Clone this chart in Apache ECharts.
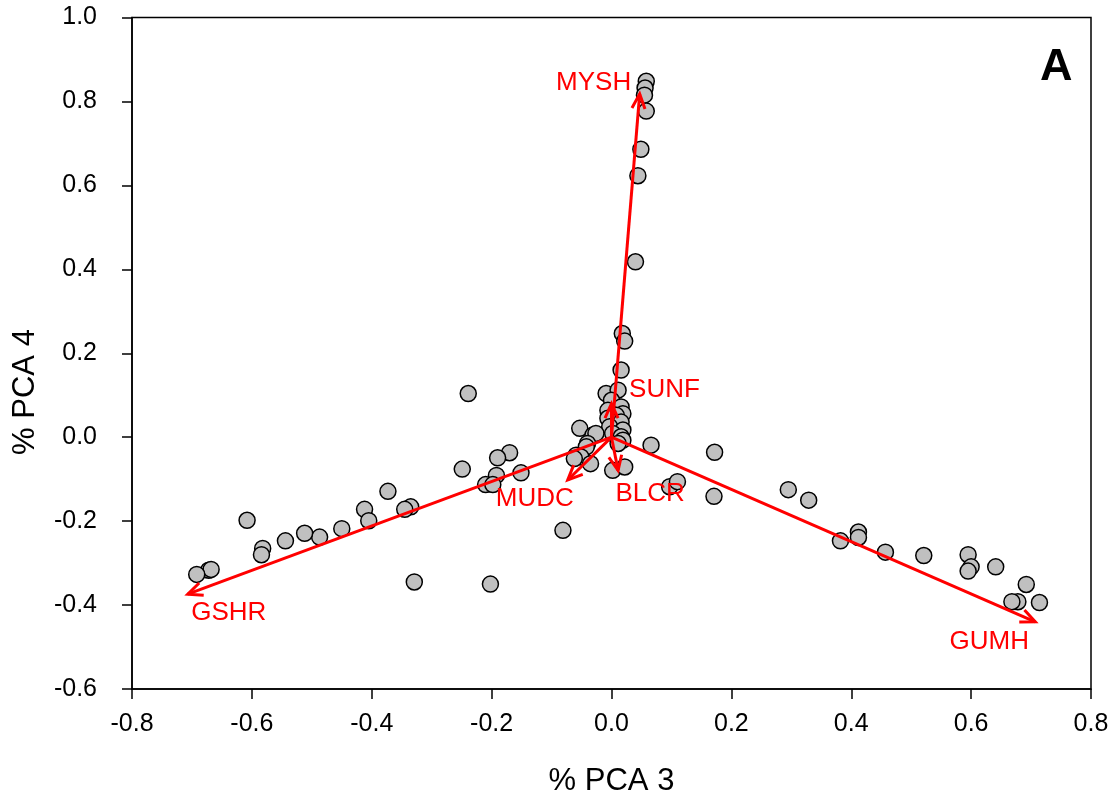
<!DOCTYPE html>
<html>
<head>
<meta charset="utf-8">
<script src="https://cdn.jsdelivr.net/npm/echarts@6/dist/echarts.min.js"></script>
<style>html,body{margin:0;padding:0;background:#fff}#c{width:1115px;height:803px}</style>
</head>
<body>
<div id="c"></div>
<script>
// Sample scores: [PCA 3, PCA 4]
const pointsX = [
  0.058, 0.056, 0.055, 0.058, 0.049, 0.044, 0.040, 0.018, 0.022, 0.016,
  -0.009, 0.011, 0.000, 0.016, -0.006, 0.019, 0.008, -0.006, 0.016, -0.003, 0.019, 0.002, 0.016, 0.019, 0.011,
  -0.053, -0.031, -0.026, -0.040, -0.042, -0.059, -0.051, -0.062, -0.035, 0.002, 0.022, 0.066, 0.097, 0.110,
  0.172, 0.171, 0.295, 0.329, 0.382, 0.412, 0.412, 0.457, 0.521, 0.595, 0.600, 0.595, 0.641, 0.692, 0.678, 0.668, 0.714,
  -0.239, -0.170, -0.190, -0.249, -0.151, -0.192, -0.210, -0.198, -0.373, -0.412, -0.405, -0.335, -0.345,
  -0.450, -0.487, -0.512, -0.544, -0.582, -0.584, -0.608, -0.672, -0.668, -0.692, -0.329, -0.202, -0.081
];
const pointsY = [
  0.848, 0.832, 0.815, 0.777, 0.686, 0.623, 0.418, 0.247, 0.229, 0.160,
  0.104, 0.112, 0.088, 0.072, 0.064, 0.056, 0.052, 0.045, 0.036, 0.025, 0.017, 0.009, 0.001, -0.007, -0.015,
  0.021, 0.005, 0.009, -0.015, -0.023, -0.043, -0.047, -0.051, -0.063, -0.079, -0.071, -0.019, -0.118, -0.106,
  -0.036, -0.141, -0.125, -0.150, -0.247, -0.226, -0.239, -0.274, -0.282, -0.280, -0.309, -0.319, -0.309, -0.351, -0.392, -0.392, -0.394,
  0.104, -0.037, -0.049, -0.076, -0.085, -0.091, -0.113, -0.113, -0.129, -0.172, -0.199, -0.166, -0.172,
  -0.218, -0.238, -0.229, -0.247, -0.265, -0.280, -0.198, -0.317, -0.315, -0.327, -0.345, -0.350, -0.222
];
// Variable loadings (arrow tips)
const loadingNames = ['MYSH', 'SUNF', 'BLCR', 'MUDC', 'GSHR', 'GUMH'];
const loadingX = [0.047, 0.000, 0.011, -0.073, -0.707, 0.707];
const loadingY = [0.818, 0.080, -0.079, -0.102, -0.374, -0.440];
const xTicks = { min: -0.8, max: 0.8, interval: 0.2 };
const yTicks = { min: -0.6, max: 1.0, interval: 0.2 };
const xTitle = '% PCA 3';
const yTitle = '% PCA 4';
const panelLetter = 'A';

// label pixel offsets from arrow tips (styling)
const labelOffsets = [[-46, -11], [53, -14], [32, 23], [-33, 19], [41, 19], [-46, 20]];

const FONT = '"Liberation Sans", Arial, sans-serif';
const chart = echarts.init(document.getElementById('c'));

const scatterData = pointsX.map((x, i) => [x, pointsY[i]]);
const loadData = loadingX.map((x, i) => [x, loadingY[i], i]);

function renderArrow(params, api) {
  const o = api.coord([0, 0]);
  const t = api.coord([api.value(0), api.value(1)]);
  const idx = api.value(2);
  const ang = Math.atan2(t[1] - o[1], t[0] - o[0]);
  const L = 16, A = 0.42;
  const p1 = [t[0] - L * Math.cos(ang - A), t[1] - L * Math.sin(ang - A)];
  const p2 = [t[0] - L * Math.cos(ang + A), t[1] - L * Math.sin(ang + A)];
  const off = labelOffsets[idx];
  return {
    type: 'group',
    children: [
      { type: 'line', shape: { x1: o[0], y1: o[1], x2: t[0], y2: t[1] }, style: { stroke: '#ff0000', lineWidth: 3 } },
      { type: 'polyline', shape: { points: [p1, t, p2] }, style: { stroke: '#ff0000', lineWidth: 3, fill: null } },
      { type: 'text', x: t[0] + off[0], y: t[1] + off[1],
        style: { text: loadingNames[idx], fill: '#ff0000', fontSize: 26, fontFamily: FONT, align: 'center', verticalAlign: 'middle' } }
    ]
  };
}

const fmt = v => v.toFixed(1);

chart.setOption({
  animation: false,
  backgroundColor: '#fff',
  grid: { left: 132, right: 24, top: 17.5, bottom: 114, show: true, borderColor: '#000', borderWidth: 1.5, backgroundColor: 'transparent' },
  xAxis: {
    type: 'value', min: xTicks.min, max: xTicks.max, interval: xTicks.interval,
    name: xTitle, nameLocation: 'middle', nameGap: 77,
    nameTextStyle: { fontSize: 31, fontFamily: FONT, color: '#000' },
    axisLine: { onZero: false, lineStyle: { color: '#000', width: 1.5 } },
    axisTick: { show: true, inside: false, length: 10, lineStyle: { color: '#000', width: 1.5 } },
    axisLabel: { fontSize: 25, fontFamily: FONT, color: '#000', margin: 23, formatter: fmt },
    splitLine: { show: false }
  },
  yAxis: {
    type: 'value', min: yTicks.min, max: yTicks.max, interval: yTicks.interval,
    axisLine: { onZero: false, lineStyle: { color: '#000', width: 1.5 } },
    axisTick: { show: true, inside: false, length: 10, lineStyle: { color: '#000', width: 1.5 } },
    axisLabel: { fontSize: 25, fontFamily: FONT, color: '#000', margin: 35, formatter: fmt },
    splitLine: { show: false }
  },
  graphic: [
    { type: 'text', left: 1040, top: 45, style: { text: panelLetter, fontSize: 45, fontWeight: 'bold', fontFamily: FONT, fill: '#000' } },
    { type: 'text', x: 25, y: 392, rotation: Math.PI / 2,
      style: { text: yTitle, fontSize: 31, fontFamily: FONT, fill: '#000', align: 'center', verticalAlign: 'middle' } }
  ],
  series: [
    {
      type: 'scatter', data: scatterData, symbol: 'circle', symbolSize: 16, z: 2,
      itemStyle: { color: '#c0c0c0', borderColor: '#000', borderWidth: 1.5, opacity: 1 }
    },
    {
      type: 'custom', data: loadData, renderItem: renderArrow, z: 5, clip: false
    }
  ]
});
</script>
</body>
</html>
